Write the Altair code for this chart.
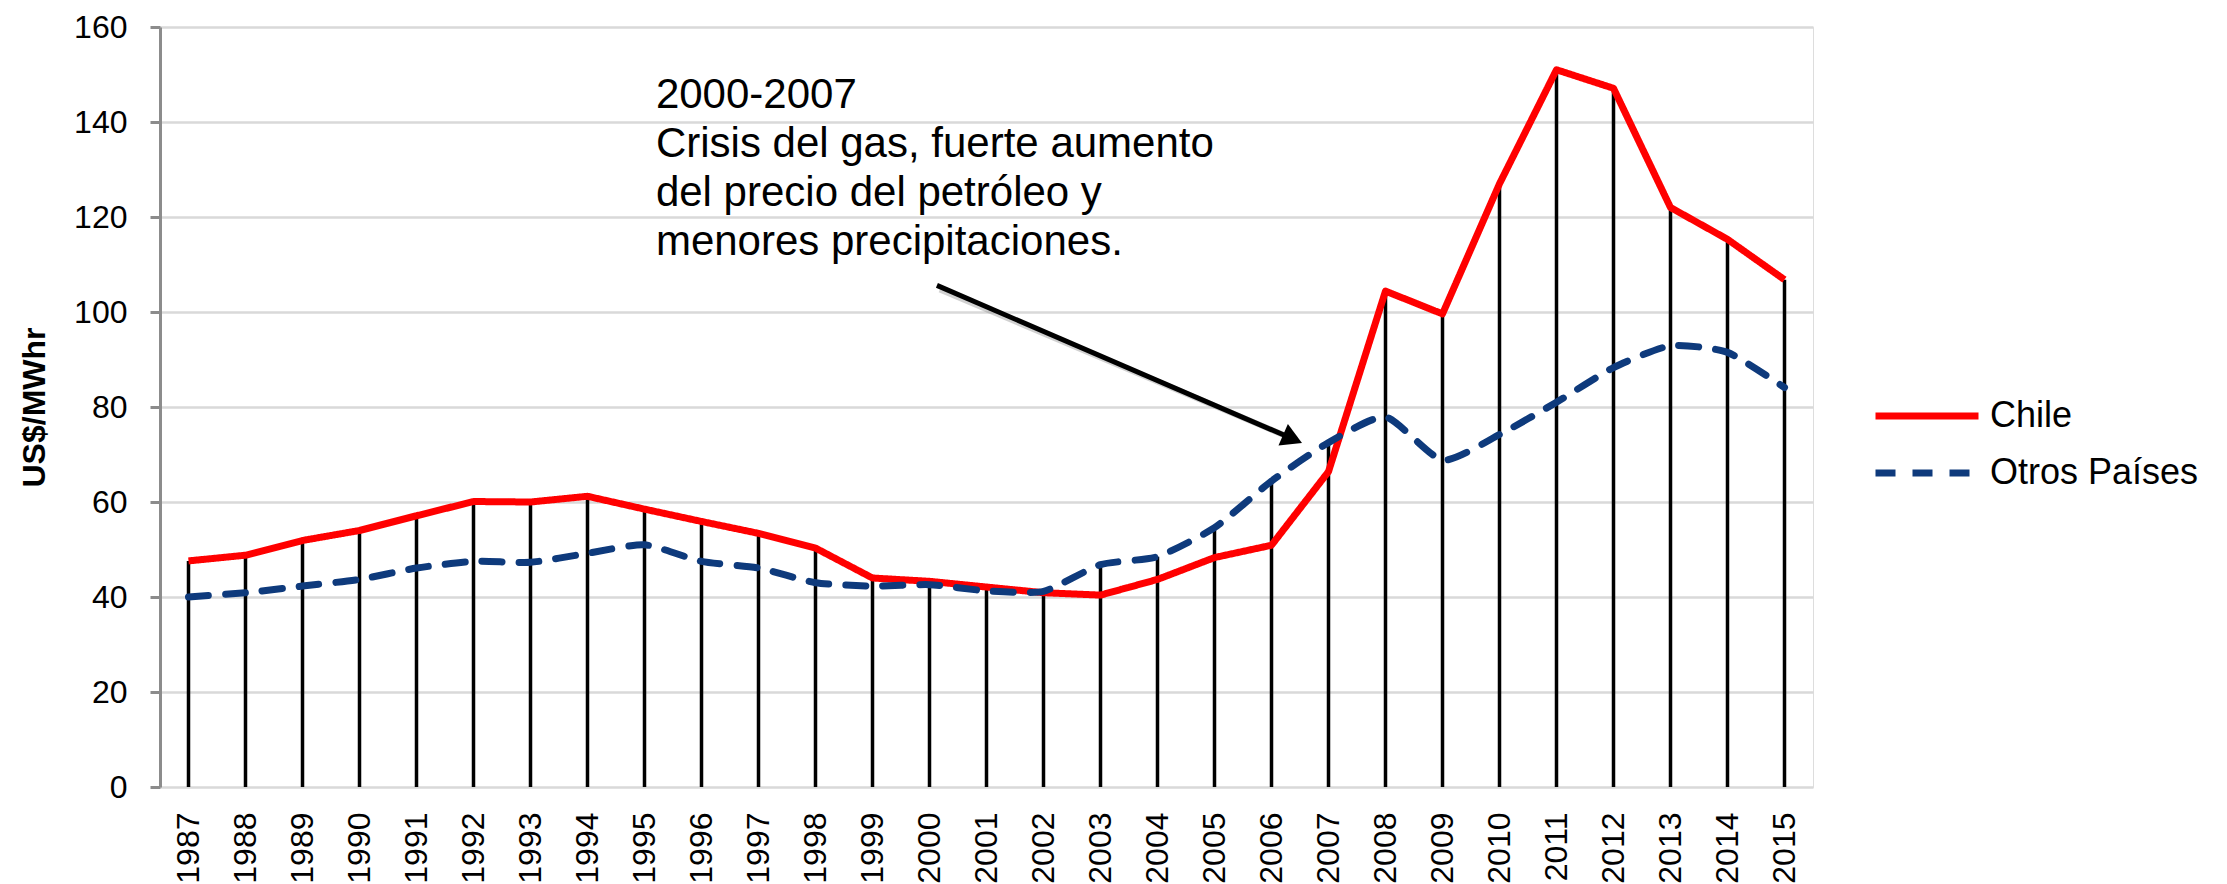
import altair as alt
import pandas as pd

# ---------------- data ----------------
years = list(range(1987, 2016))
chile = [47.6, 48.8, 51.9, 54.0, 57.1, 60.1, 60.0, 61.2, 58.5, 55.9,
         53.4, 50.3, 44.0, 43.3, 42.1, 40.9, 40.4, 43.7, 48.3, 50.9,
         66.4, 104.4, 99.6, 127.0, 151.0, 147.1, 122.0, 115.3, 106.8]
otros = [40.0, 40.9, 42.3, 43.7, 46.1, 47.5, 47.3, 49.2, 51.0, 47.5,
         46.1, 43.0, 42.3, 42.6, 41.3, 41.2, 46.8, 48.5, 54.6, 64.4,
         72.5, 77.9, 68.8, 74.2, 81.0, 88.3, 92.9, 91.5, 84.1]
series_names = ["Chile", "Otros Países"]
y_ticks = [0, 20, 40, 60, 80, 100, 120, 140, 160]
annotation_lines = ["2000-2007",
                    "Crisis del gas, fuerte aumento",
                    "del precio del petróleo y",
                    "menores precipitaciones."]
annotation_at = {"year": [1995.2], "value": [142.9]}
arrow_from = {"year": [2000.13], "value": [105.6]}
arrow_to = {"year": [2006.37], "value": [73.3]}

# ---------------- tables ----------------
wide = pd.DataFrame({"year": years, "Chile": chile, "Otros Países": otros})
wide["top"] = wide[series_names].max(axis=1)
long = wide.melt(id_vars="year", value_vars=series_names,
                 var_name="serie", value_name="valor")
annot_df = pd.DataFrame({"year": annotation_at["year"], "value": annotation_at["value"],
                         "label": ["\n".join(annotation_lines)]})
arrow_df = pd.DataFrame({"x1": arrow_from["year"], "y1": arrow_from["value"],
                         "x2": arrow_to["year"], "y2": arrow_to["value"]})

FONT = "Liberation Sans"
x_scale = alt.Scale(domain=[1986.5, 2015.5], nice=False, zero=False)
y_scale = alt.Scale(domain=[0, 160], nice=False)

x_axis = alt.Axis(values=years, format="d", labelAngle=270, labelFontSize=32,
                  labelPadding=25, ticks=False, tickSize=0, domain=False, grid=False,
                  title=None, labelFont=FONT, labelColor="black", labelFlush=False,
                  labelOverlap=False)
y_axis = alt.Axis(values=y_ticks, labelFontSize=32, labelPadding=23, tickSize=10,
                  tickWidth=3, tickColor="#8C8C8C", domainColor="#8C8C8C", domainWidth=3,
                  gridColor="#D9D9D9", gridWidth=2.5, title="US$/MWhr", titleFontSize=32,
                  titleFont=FONT, titleFontWeight="bold", titlePadding=22,
                  labelFont=FONT, labelColor="black", titleColor="black")


def X(field):
    return alt.X(field, type="quantitative", scale=x_scale, axis=x_axis)


def Y(field):
    return alt.Y(field, type="quantitative", scale=y_scale, axis=y_axis)


legend = alt.Legend(title=None, orient="none", legendX=1712, legendY=371,
                    labelFontSize=36, labelFont=FONT, labelColor="black", labelLimit=0,
                    symbolType="stroke", symbolSize=10609, symbolStrokeWidth=7,
                    clipHeight=36, rowPadding=21, labelOffset=8, padding=0,
                    symbolOffset=0)
color = alt.Color("serie:N", scale=alt.Scale(domain=series_names,
                                             range=["#FF0000", "#0E3A7C"]), legend=legend)
dash = alt.StrokeDash("serie:N", scale=alt.Scale(domain=series_names,
                                                 range=[[1, 0], [20, 17]]), legend=legend)

stems = alt.Chart(wide).mark_rule(color="black", strokeWidth=3.5).encode(
    x=X("year"), y=Y("top"), y2=alt.datum(0))

line_chile = alt.Chart(long).transform_filter(alt.datum.serie == "Chile").mark_line(
    strokeWidth=7, strokeJoin="round").encode(x=X("year"), y=Y("valor"),
                                              color=color, strokeDash=dash)
line_otros = alt.Chart(long).transform_filter(alt.datum.serie == "Otros Países").mark_line(
    strokeWidth=7, strokeCap="round", interpolate="cardinal", tension=0.4).encode(
    x=X("year"), y=Y("valor"), color=color, strokeDash=dash)

arrow_shadow = alt.Chart(arrow_df).mark_rule(color="#9A9A9A", opacity=0.45, strokeWidth=6,
                                             xOffset=3, yOffset=4).encode(
    x=X("x1"), y=Y("y1"), x2="x2", y2="y2")
arrow_line = alt.Chart(arrow_df).mark_rule(color="black", strokeWidth=5).encode(
    x=X("x1"), y=Y("y1"), x2="x2", y2="y2")
arrow_head = alt.Chart(arrow_df).mark_point(shape="triangle-right", filled=True,
                                            color="black", opacity=1, size=560,
                                            angle=23.4).encode(x=X("x2"), y=Y("y2"))

annot = alt.Chart(annot_df).mark_text(align="left", baseline="alphabetic", fontSize=42,
                                      font=FONT, lineHeight=49, lineBreak="\n",
                                      color="black").encode(
    x=X("year"), y=Y("value"), text="label:N")

chart = alt.layer(stems, line_chile, line_otros, arrow_shadow, arrow_line, arrow_head,
                  annot).properties(
    width=1653, height=760,
    padding={"left": 152, "top": 19, "right": 395, "bottom": 100},
    autosize=alt.AutoSizeParams(type="none"),
).configure_view(stroke=None).configure(background="white")

chart.save("out.html", embed_options={"renderer": "svg", "actions": False})
